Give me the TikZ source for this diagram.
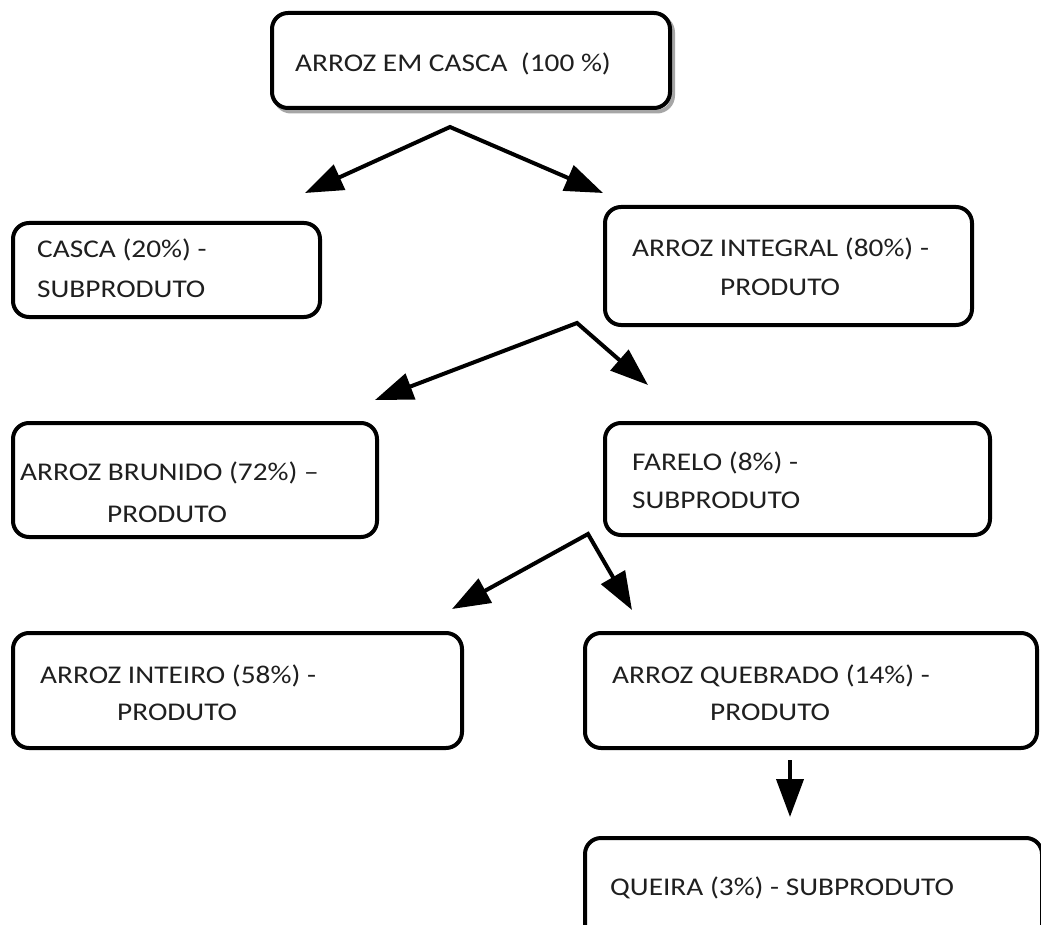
\documentclass[tikz,border=0pt]{standalone}
\usepackage{fontspec}
\setmainfont[FakeStretch=1.15]{Carlito}
\usetikzlibrary{arrows.meta}
\begin{document}
\begin{tikzpicture}[x=1pt,y=-1pt,
  box/.style={draw, line width=4pt, rounded corners=16pt, fill=white, rectangle, inner sep=0pt},
  shadowbox/.style={draw=black!35, line width=4pt, rounded corners=16pt, rectangle, inner sep=0pt},
  lbl/.style={anchor=base west, inner sep=0pt, text=black!88, font=\fontsize{25.5}{30}\selectfont},
  arr/.style={line width=4pt, line join=miter, -{Triangle[length=38pt,width=27pt]}},
  arrtwo/.style={line width=4pt, line join=miter, {Triangle[length=38pt,width=27pt]}-{Triangle[length=38pt,width=27pt]}}]
\useasboundingbox (0,0) rectangle (1041,925);
\clip (0,0) rectangle (1041,925);
\fill[white] (0,0) rectangle (1041,925);

% boxes
\node[shadowbox, minimum width=398pt, minimum height=95pt] (topsh) at (474,64) {};
\node[box, minimum width=398pt, minimum height=95pt] (top) at (471,60.5) {};
\node[box, minimum width=307pt, minimum height=94pt] (casca) at (166.5,270) {};
\node[box, minimum width=367pt, minimum height=118pt] (integral) at (788.5,266) {};
\node[box, minimum width=364pt, minimum height=114pt] (brunido) at (195,480) {};
\node[box, minimum width=385pt, minimum height=112pt] (farelo) at (797.5,479) {};
\node[box, minimum width=449pt, minimum height=115pt] (inteiro) at (237.5,690.5) {};
\node[box, minimum width=452pt, minimum height=115pt] (quebrado) at (811,690.5) {};
\node[box, minimum width=457pt, minimum height=107pt] (queira) at (813.5,891.5) {};

% texts
\node[lbl] (ttop) at (295,72) {ARROZ EM CASCA\ \ (100 \%)};
\node[lbl] (tcasca1) at (37,258) {CASCA (20\%) -};
\node[lbl] (tcasca2) at (37,298) {SUBPRODUTO};
\node[lbl] (tint1) at (632,257) {ARROZ INTEGRAL (80\%) -};
\node[lbl] (tint2) at (720,295) {PRODUTO};
\node[lbl] (tbru1) at (20,480) {ARROZ BRUNIDO (72\%) –};
\node[lbl] (tbru2) at (107,522) {PRODUTO};
\node[lbl] (tfar1) at (632,470) {FARELO (8\%) -};
\node[lbl] (tfar2) at (632,508) {SUBPRODUTO};
\node[lbl] (tint1b) at (40,683) {ARROZ INTEIRO (58\%) -};
\node[lbl] (tint2b) at (117,720) {PRODUTO};
\node[lbl] (tque1) at (612,683) {ARROZ QUEBRADO (14\%) -};
\node[lbl] (tque2) at (710,720) {PRODUTO};
\node[lbl] (tqueira) at (610,895) {QUEIRA (3\%) - SUBPRODUTO};

% connector points
\coordinate (s1) at (450,127);
\coordinate (l1) at (305,193);
\coordinate (r1) at (603,193);
\coordinate (s2) at (577,323);
\coordinate (l2) at (375,400);
\coordinate (r2) at (648,385);
\coordinate (s3) at (588,534);
\coordinate (l3) at (452,609);
\coordinate (r3) at (632,610);
\coordinate (s4) at (790,760);
\coordinate (e4) at (790,817);

\draw[arrtwo] (l1) -- (s1) -- (r1);
\draw[arrtwo] (l2) -- (s2) -- (r2);
\draw[arrtwo] (l3) -- (s3) -- (r3);
\draw[arr] (s4) -- (e4);
\end{tikzpicture}
\end{document}
